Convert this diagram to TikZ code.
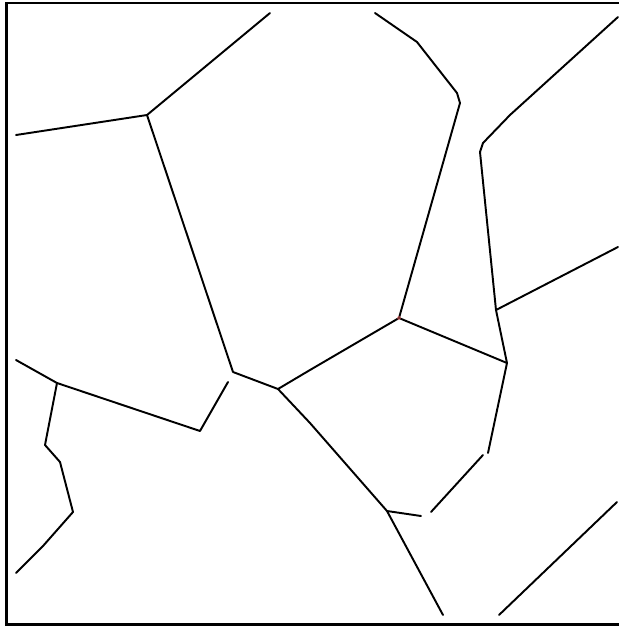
\documentclass[tikz,border=0pt]{standalone}
\begin{document}
\begin{tikzpicture}[x=0.02cm, y=-0.02cm,
    edge/.style={line width=1.1pt, line join=round, line cap=round},
    frame/.style={line width=1.5pt}]
    \useasboundingbox (0,0) rectangle (619,627);

    % Frame (right side runs off the picture)
    \draw[frame] (619,3) -- (6.5,3) -- (6.5,624.5) -- (619,624.5);

    % Vertices of the cells
    \coordinate (tl) at (147,115);
    \coordinate (mid) at (233,372);
    \coordinate (joint) at (278,389);
    \coordinate (red) at (399,318);
    \coordinate (east) at (507,363);
    \coordinate (fork) at (496,310);
    \coordinate (neck) at (480,152);
    \coordinate (peak) at (460,103);
    \coordinate (low) at (387,511);
    \coordinate (notch) at (200,431);
    \coordinate (west) at (57,383);

    % Upper left cell
    \draw[edge] (270,13) -- (tl) -- (16,135);
    \draw[edge] (tl) -- (mid) -- (joint);
    \draw[edge] (228,382) -- (notch) -- (west) -- (16,360);

    % Wavy left branch
    \draw[edge] (west) -- (45,445) -- (60,462) -- (73,512) -- (43,546) -- (16,573);

    % Central cell
    \draw[edge] (joint) -- (310,370) -- (red) -- (east);
    \draw[edge] (red) -- (peak) -- (457,93) -- (417,42) -- (375,13);
    \draw[edge] (joint) -- (310,423) -- (low) -- (443,615);
    \draw[edge] (low) -- (421,516);
    \draw[edge] (431,512) -- (483,455);
    \draw[edge] (488,453) -- (east);

    % Right cells
    \draw[edge] (east) -- (fork) -- (neck) -- (483,143) -- (510,115) -- (618,17);
    \draw[edge] (fork) -- (618,247);

    % Lower right
    \draw[edge] (499,615) -- (617,502);

    % faint red mark at the vertex
    \fill[red!60, opacity=0.5] (red) circle (2);
\end{tikzpicture}
\end{document}
